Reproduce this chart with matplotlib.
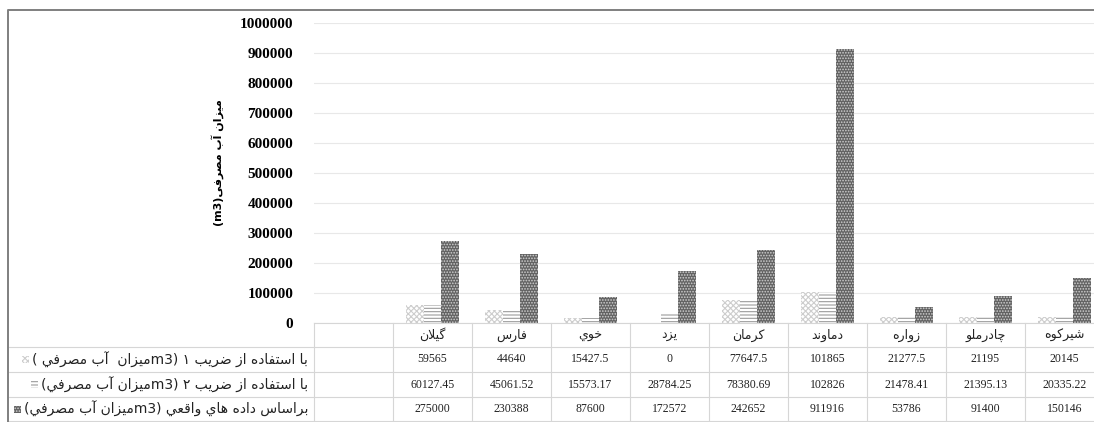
import re
import numpy as np
import matplotlib
matplotlib.use('Agg')
import matplotlib.pyplot as plt
from matplotlib.lines import Line2D
from matplotlib.patches import Rectangle
import matplotlib.transforms as mtransforms

# data
categories = ['گیلان', 'فارس', 'خوي', 'يزد', 'کرمان', 'دماوند', 'زواره', 'چادرملو', 'شیرکوه']
coef1 = [59565, 44640, 15427.5, 0, 77647.5, 101865, 21277.5, 21195, 20145]
coef2 = [60127.45, 45061.52, 15573.17, 28784.25, 78380.69, 102826, 21478.41, 21395.13, 20335.22]
actual = [275000, 230388, 87600, 172572, 242652, 911916, 53786, 91400, 150146]
# row labels as they appear in the picture (visual word order, left to right)
row_labels = ['( مصرفي آب  میزانm3) ۱ ضریب از استفاده با',
              '(مصرفي آب میزانm3) ۲ ضریب از استفاده با',
              '(مصرفي آب میزانm3) واقعي هاي داده براساس']
ylabel = '(m3)مصرفی آب میزان'
yticks = np.arange(0, 1000001, 100000)


# matplotlib does not shape arabic script, so map letters to presentation forms
AR = {
    'آ': (0xFE81, 0xFE82, None, None), 'ا': (0xFE8D, 0xFE8E, None, None),
    'ب': (0xFE8F, 0xFE90, 0xFE91, 0xFE92), 'پ': (0xFB56, 0xFB57, 0xFB58, 0xFB59),
    'ت': (0xFE95, 0xFE96, 0xFE97, 0xFE98), 'ث': (0xFE99, 0xFE9A, 0xFE9B, 0xFE9C),
    'ج': (0xFE9D, 0xFE9E, 0xFE9F, 0xFEA0), 'چ': (0xFB7A, 0xFB7B, 0xFB7C, 0xFB7D),
    'ح': (0xFEA1, 0xFEA2, 0xFEA3, 0xFEA4), 'خ': (0xFEA5, 0xFEA6, 0xFEA7, 0xFEA8),
    'د': (0xFEA9, 0xFEAA, None, None), 'ذ': (0xFEAB, 0xFEAC, None, None),
    'ر': (0xFEAD, 0xFEAE, None, None), 'ز': (0xFEAF, 0xFEB0, None, None),
    'ژ': (0xFB8A, 0xFB8B, None, None),
    'س': (0xFEB1, 0xFEB2, 0xFEB3, 0xFEB4), 'ش': (0xFEB5, 0xFEB6, 0xFEB7, 0xFEB8),
    'ص': (0xFEB9, 0xFEBA, 0xFEBB, 0xFEBC), 'ض': (0xFEBD, 0xFEBE, 0xFEBF, 0xFEC0),
    'ط': (0xFEC1, 0xFEC2, 0xFEC3, 0xFEC4), 'ظ': (0xFEC5, 0xFEC6, 0xFEC7, 0xFEC8),
    'ع': (0xFEC9, 0xFECA, 0xFECB, 0xFECC), 'غ': (0xFECD, 0xFECE, 0xFECF, 0xFED0),
    'ف': (0xFED1, 0xFED2, 0xFED3, 0xFED4), 'ق': (0xFED5, 0xFED6, 0xFED7, 0xFED8),
    'ک': (0xFB8E, 0xFB8F, 0xFB90, 0xFB91), 'گ': (0xFB92, 0xFB93, 0xFB94, 0xFB95),
    'ل': (0xFEDD, 0xFEDE, 0xFEDF, 0xFEE0), 'م': (0xFEE1, 0xFEE2, 0xFEE3, 0xFEE4),
    'ن': (0xFEE5, 0xFEE6, 0xFEE7, 0xFEE8), 'و': (0xFEED, 0xFEEE, None, None),
    'ه': (0xFEE9, 0xFEEA, 0xFEEB, 0xFEEC),
    'ی': (0xFBFC, 0xFBFD, 0xFBFE, 0xFBFF), 'ي': (0xFEF1, 0xFEF2, 0xFEF3, 0xFEF4),
}
LAMALEF = {'ا': (0xFEFB, 0xFEFC), 'آ': (0xFEF5, 0xFEF6)}


def shape_run(run):
    out = []
    i = 0
    n = len(run)
    while i < n:
        c = run[i]
        joins_prev = i > 0 and AR[run[i-1]][2] is not None and not (i > 1 and run[i-2] == 'ل' and run[i-1] in LAMALEF)
        if c == 'ل' and i + 1 < n and run[i+1] in LAMALEF:
            iso, fin = LAMALEF[run[i+1]]
            out.append(chr(fin if joins_prev else iso))
            i += 2
            continue
        iso, fin, ini, med = AR[c]
        joins_next = i + 1 < n and ini is not None
        if joins_prev and joins_next:
            g = med
        elif joins_prev:
            g = fin
        elif joins_next:
            g = ini
        else:
            g = iso
        out.append(chr(g))
        i += 1
    return ''.join(reversed(out))


AR_RUN = re.compile('[' + ''.join(AR) + ']+')


def vis(s):
    return AR_RUN.sub(lambda m: shape_run(m.group()), s)


W, H = 1094, 422
fig = plt.figure(figsize=(W/100, H/100), dpi=100)
plt.rcParams['hatch.linewidth'] = 0.8

def fx(px):
    return px / W

def fy(py):
    return 1 - py / H

# plot area: 10 columns of 79px starting at x=314, first column empty
ax = fig.add_axes([fx(314), fy(323), 790/W, 300/H])
x = np.arange(1, len(categories) + 1)
w = 0.22
styles = [dict(facecolor='white', edgecolor='#cdcdcd', hatch='xxxxxx'),
          dict(facecolor='white', edgecolor='#9c9c9c', hatch='-----'),
          dict(facecolor='#626262', edgecolor='#d0d0d0', hatch='......')]
series = [coef1, coef2, actual]
for k, (vals, st) in enumerate(zip(series, styles)):
    ax.bar(x + (k - 1) * w, vals, w, linewidth=0, **st)

ax.set_xlim(-0.5, len(categories) + 0.5)
ax.set_ylim(0, 1000000)
ax.set_yticks(yticks)
ax.set_yticklabels([str(v) for v in yticks], fontfamily='Liberation Serif',
                   fontweight='bold', fontsize=11)
ax.tick_params(axis='y', length=0, pad=15)
ax.set_xticks([])
ax.grid(axis='y', color='#e8e8e8', linewidth=0.8)
ax.set_axisbelow(True)
for sp in ax.spines.values():
    sp.set_visible(False)

fig.text(fx(218), fy(163), vis(ylabel), rotation=90, ha='center', va='center',
         fontfamily='DejaVu Sans', fontweight='bold', fontsize=8)

# data table under the chart
grid_col = '#d6d6d6'
blend = mtransforms.blended_transform_factory(ax.transData, fig.transFigure)
fig.add_artist(Line2D([fx(314), 1], [fy(323), fy(323)], transform=fig.transFigure, color=grid_col, lw=0.8))
for yy in [347, 372, 397, 421]:
    fig.add_artist(Line2D([fx(9), 1], [fy(yy), fy(yy)], transform=fig.transFigure, color=grid_col, lw=0.8))
for k in range(len(categories) + 2):
    fig.add_artist(Line2D([k - 0.5, k - 0.5], [fy(323), fy(422)], transform=blend, color=grid_col, lw=0.8))

for xi, name in zip(x, categories):
    fig.text(xi, fy(335), vis(name), transform=blend, ha='center', va='center',
             fontfamily='DejaVu Sans', fontsize=9, color='#222222')

row_y = [359.5, 384.5, 409]
for yy, vals in zip(row_y, series):
    for xi, v in zip(x, vals):
        fig.text(xi, fy(yy), '{:.10g}'.format(v), transform=blend, ha='center', va='center',
                 fontfamily='Liberation Serif', fontsize=8.5, color='#222222')

# row headers: text right aligned in the cell, legend key just left of the text
renderer = fig.canvas.get_renderer()
for yy, lab, st in zip(row_y, row_labels, styles):
    t = fig.text(fx(308), fy(yy), vis(lab), ha='right', va='center',
                 fontfamily='DejaVu Sans', fontsize=10, color='#222222')
    x0 = t.get_window_extent(renderer).x0
    fig.add_artist(Rectangle(((x0 - 10) / W, fy(yy + 3.5)), 7/W, 7/H, transform=fig.transFigure,
                             linewidth=0, **st))

# outer chart border (right and bottom are cut off in the reference)
fig.add_artist(Line2D([fx(8), fx(8), 1], [0, fy(10), fy(10)], transform=fig.transFigure,
                      color='#7f7f7f', lw=1.4))

fig.savefig('out.png', dpi=100)
